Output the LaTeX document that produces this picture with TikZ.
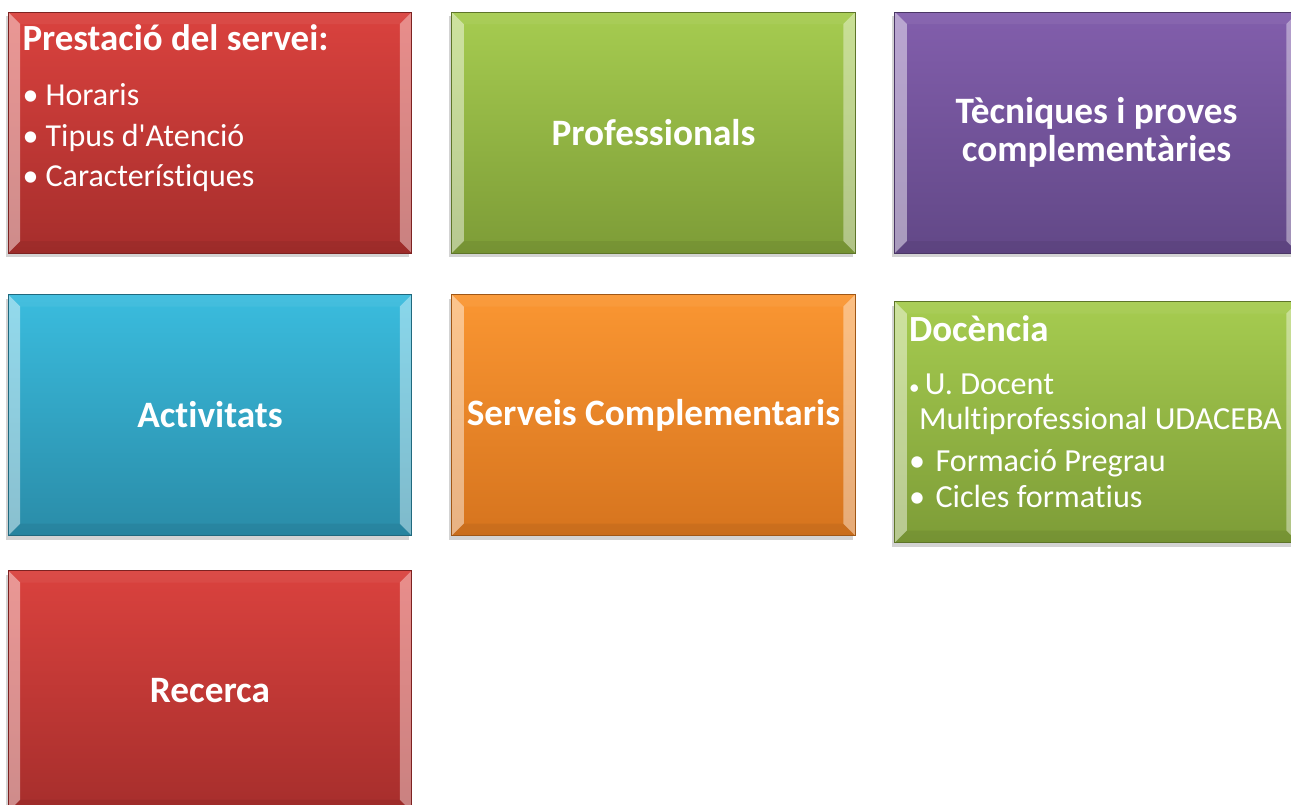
\documentclass[tikz,border=0pt]{standalone}
\usepackage{fontspec}
\setmainfont{Carlito}[Ligatures=NoCommon]
\usetikzlibrary{shadows,positioning}

\definecolor{redtop}{RGB}{218,66,62}
\definecolor{redbot}{RGB}{166,46,44}
\definecolor{greentop}{RGB}{166,204,80}
\definecolor{greenbot}{RGB}{125,156,55}
\definecolor{purpletop}{RGB}{130,94,172}
\definecolor{purplebot}{RGB}{98,72,135}
\definecolor{cyantop}{RGB}{58,188,222}
\definecolor{cyanbot}{RGB}{42,140,168}
\definecolor{orangetop}{RGB}{250,150,50}
\definecolor{orangebot}{RGB}{214,116,30}

\tikzset{
  bevelbox/.style={rectangle, draw=#1bot!75!black, line width=0.5pt,
    top color=#1top, bottom color=#1bot,
    minimum width=8.07cm, minimum height=4.82cm, inner sep=0pt,
    text=white, align=center,
    drop shadow={shadow xshift=-1.5pt, shadow yshift=-2.5pt, opacity=0.35},
    path picture={
      \fill[white, opacity=0.45] (path picture bounding box.north west) -- ([shift={(0.24,-0.24)}]path picture bounding box.north west) -- ([shift={(0.24,0.24)}]path picture bounding box.south west) -- (path picture bounding box.south west) -- cycle;
      \fill[white, opacity=0.4] (path picture bounding box.north east) -- ([shift={(-0.24,-0.24)}]path picture bounding box.north east) -- ([shift={(-0.24,0.24)}]path picture bounding box.south east) -- (path picture bounding box.south east) -- cycle;
      \fill[white, opacity=0.05] (path picture bounding box.north west) -- ([shift={(0.24,-0.24)}]path picture bounding box.north west) -- ([shift={(-0.24,-0.24)}]path picture bounding box.north east) -- (path picture bounding box.north east) -- cycle;
      \fill[black, opacity=0.06] (path picture bounding box.south west) -- ([shift={(0.24,0.24)}]path picture bounding box.south west) -- ([shift={(-0.24,0.24)}]path picture bounding box.south east) -- (path picture bounding box.south east) -- cycle;
    }},
  headtext/.style={font=\fontsize{21.2}{24}\selectfont\bfseries},
  listtext/.style={font=\fontsize{18.2}{23.2}\selectfont}
}

\begin{document}
\begin{tikzpicture}
\useasboundingbox (0,0) rectangle (25.82,-16.1);
% first row
\node[bevelbox=red, listtext] (presta) at (4.2,-2.65) {\begin{minipage}[c][4.7cm][t]{7.5cm}\raggedright
  \vspace*{5.5pt}{\fontsize{21}{23}\selectfont\bfseries Prestació del servei:}\par\vspace{8pt}
  • Horaris\par
  • Tipus d\textquotesingle Atenció\par
  • Característiques\end{minipage}};
\node[bevelbox=green, headtext] (profes) at (13.07,-2.65) {Professionals};
\node[bevelbox=purple, headtext, font=\fontsize{21.2}{21.5}\selectfont\bfseries] (tecniq) at (21.93,-2.65) {Tècniques i proves\\complementàries};
% second row
\node[bevelbox=cyan, headtext] (activ) at (4.2,-8.3) {Activitats};
\node[bevelbox=orange, headtext] (servcomp) at (13.07,-8.3) {Serveis Complementaris};
\node[bevelbox=green, listtext, font=\fontsize{18.3}{20}\selectfont] (docen) at (21.93,-8.44) {\begin{minipage}[c][4.7cm][t]{7.5cm}\raggedright
  \vspace*{6.5pt}{\fontsize{21}{23}\selectfont\bfseries Docència}\par\vspace{10pt}
  {\fontsize{12}{14}\selectfont•}\,U. Docent\par
  \hspace*{0.2cm}Multiprofessional UDACEBA\par\vspace{4pt}
  •\hspace{0.1em} Formació Pregrau\par\vspace{0.5pt}
  •\hspace{0.1em} Cicles formatius\end{minipage}};
% third row
\node[bevelbox=red, headtext] (recer) at (4.2,-13.82) {Recerca};
\end{tikzpicture}
\end{document}
